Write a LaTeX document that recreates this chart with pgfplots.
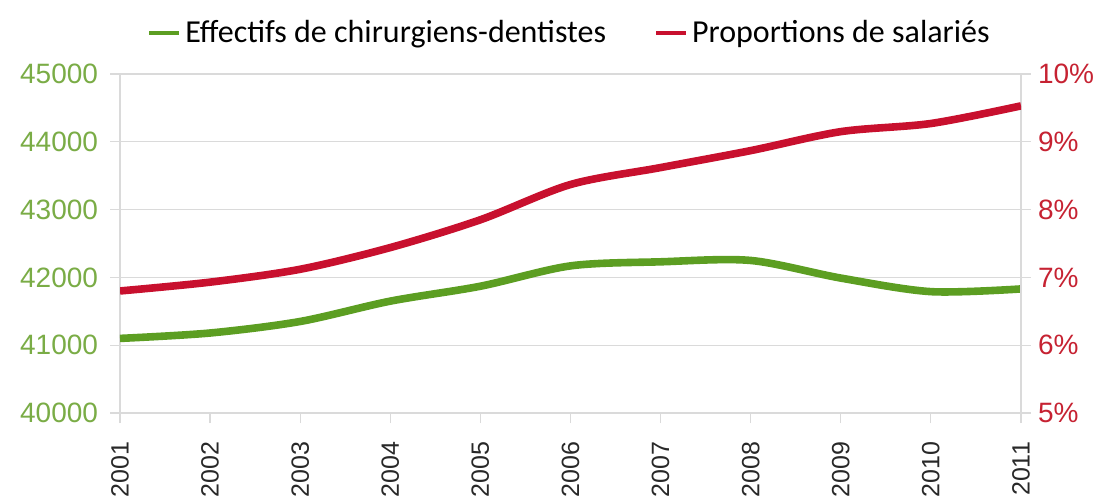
\documentclass[border=0pt]{standalone}
\usepackage{fontspec}
\setmainfont{Liberation Sans}
\newfontfamily\legendfont{Carlito}
\usepackage{pgfplots}
\pgfplotsset{compat=1.18}

\definecolor{dgreen}{RGB}{92,158,34}
\definecolor{lgreen}{RGB}{122,172,70}
\definecolor{dred}{RGB}{200,16,46}
\definecolor{lred}{RGB}{198,34,50}
\definecolor{gridgray}{RGB}{218,218,218}
\definecolor{txtgray}{RGB}{40,40,40}

\pgfplotsset{
  base/.style={
    scale only axis, width=450.5pt, height=169.5pt,
    xmin=2001, xmax=2011,
    xtick={2001,...,2011},
    axis line style={gridgray, line width=0.6pt},
    tick style={gridgray, line width=0.6pt},
    tick align=outside,
    major tick length=5pt,
    scaled ticks=false,
    /pgf/number format/1000 sep={},
    /pgf/number format/assume math mode=true,
    yticklabel style={font=\fontsize{14}{16}\selectfont},
  }
}

\begin{document}
\begin{tikzpicture}
  % left axis: effectifs
  \begin{axis}[
    base, name=ax,
    axis y line*=left, axis x line*=bottom,
    ymin=40000, ymax=45000,
    ytick={40000,41000,...,45000},
    ymajorgrids, grid style={gridgray, line width=0.6pt},
    yticklabel style={lgreen, xshift=-2.5pt},
    xticklabel shift=6pt,
    xticklabel style={txtgray, rotate=90, anchor=east,
      font=\fontsize{12.5}{14}\selectfont},
  ]
    \addplot[dgreen, line width=3.8pt, smooth, tension=0.5] coordinates {
      (2001,41100) (2002,41180) (2003,41350) (2004,41650) (2005,41870)
      (2006,42170) (2007,42230) (2008,42250) (2009,41990) (2010,41790)
      (2011,41830)
    };
  \end{axis}
  % right axis: proportions
  \begin{axis}[
    base,
    axis y line*=right, axis x line=none,
    ymin=5, ymax=10,
    ytick={5,6,...,10},
    yticklabel={\pgfmathprintnumber{\tick}\%},
    yticklabel style={lred},
    legend style={at={(0.5,1)}, anchor=center, yshift=20.5pt, draw=none, fill=none,
      legend columns=2, font=\legendfont\fontsize{16}{18}\selectfont,
      /tikz/every even column/.append style={column sep=22pt}},
    legend image code/.code={\draw[#1, line width=2pt] (0pt,0pt) -- (15pt,0pt);},
  ]
    \addlegendimage{dgreen}
    \addlegendentry{Effectifs de chirurgiens-dentistes}
    \addplot[dred, line width=3.8pt, smooth, tension=0.5] coordinates {
      (2001,6.80) (2002,6.93) (2003,7.12) (2004,7.44) (2005,7.85)
      (2006,8.37) (2007,8.62) (2008,8.87) (2009,9.15) (2010,9.27)
      (2011,9.53)
    };
    \addlegendentry{Proportions de salariés}
  \end{axis}
  \pgfresetboundingbox
  \path ([shift={(-60pt,-42pt)}]ax.south west) rectangle ([shift={(43pt,37pt)}]ax.north east);
\end{tikzpicture}
\end{document}
